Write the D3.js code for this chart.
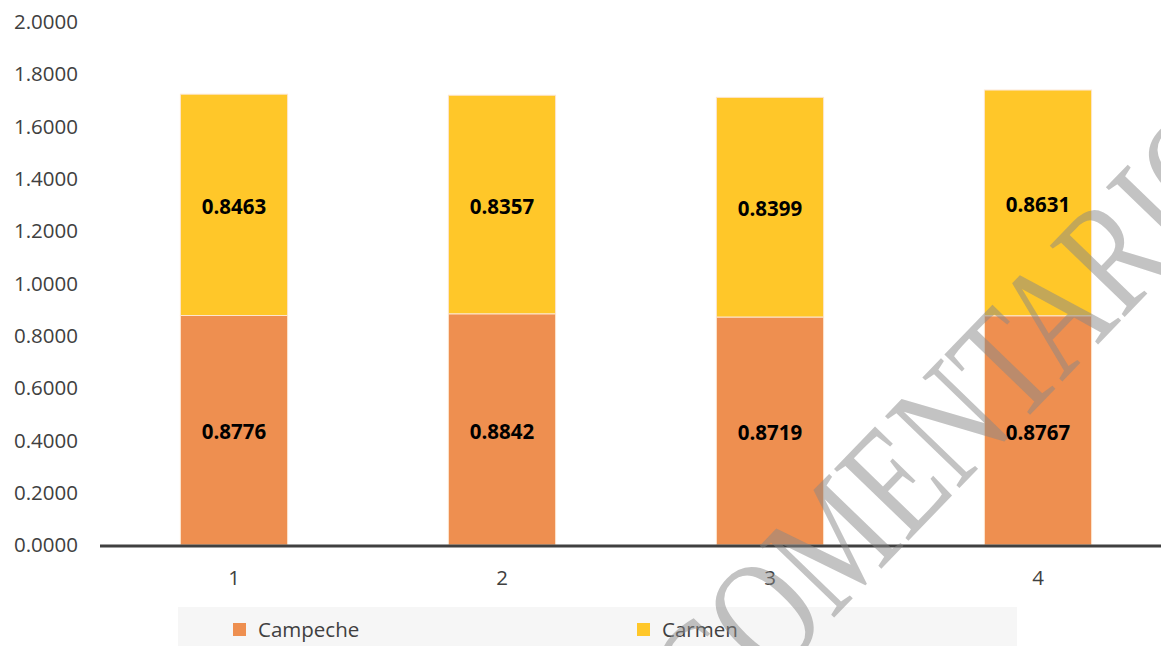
<!DOCTYPE html>
<html><head><meta charset="utf-8">
<script src="https://cdn.jsdelivr.net/npm/d3@7"></script>
<style>body{margin:0;background:#fff;}svg{display:block;}</style>
</head><body>
<svg id="c" width="1161" height="646"></svg>
<script>
const categories = ["1","2","3","4"];
const seriesNames = ["Campeche","Carmen"];
const campeche = [0.8776,0.8842,0.8719,0.8767];
const carmen = [0.8463,0.8357,0.8399,0.8631];
const yTicks = [0,0.2,0.4,0.6,0.8,1.0,1.2,1.4,1.6,1.8,2.0];
const colors = ["#EE8F50","#FFC729"];

const svg = d3.select("#c");
const font = "'Open Sans', 'Liberation Sans', sans-serif";
const fs = 20.5;
const x = d3.scaleBand().domain(categories).range([100,1172]).paddingInner(0.6).paddingOuter(0.3);
const y = d3.scaleLinear().domain([0,2]).range([545,22]);

const rows = categories.map((c,i)=>({cat:c, Campeche:campeche[i], Carmen:carmen[i]}));
const stacked = d3.stack().keys(seriesNames)(rows);

// y tick labels
svg.append("g").selectAll("text").data(yTicks).join("text")
  .attr("x",78).attr("y",d=>y(d)).attr("dy","0.35em").attr("text-anchor","end")
  .attr("font-family",font).attr("font-size",fs).attr("fill","#404040")
  .text(d=>d.toFixed(4));

// bars
const g = svg.append("g");
stacked.forEach((s,si)=>{
  g.selectAll(null).data(s).join("rect")
    .attr("x",d=>x(d.data.cat)).attr("width",x.bandwidth())
    .attr("y",d=>y(d[1])).attr("height",d=>y(d[0])-y(d[1]))
    .attr("fill",colors[si]).attr("stroke","#fde6cf").attr("stroke-width",1);
  g.selectAll(null).data(s).join("text")
    .attr("x",d=>x(d.data.cat)+x.bandwidth()/2).attr("y",d=>(y(d[0])+y(d[1]))/2+2)
    .attr("dy","0.35em").attr("text-anchor","middle")
    .attr("font-family",font).attr("font-weight","bold").attr("font-size",fs).attr("fill","#000")
    .text(d=>(d[1]-d[0]).toFixed(4));
});

// x axis line
svg.append("line").attr("x1",100).attr("x2",1161).attr("y1",y(0)+1).attr("y2",y(0)+1)
  .attr("stroke","#404040").attr("stroke-width",3);
svg.append("g").selectAll("text").data(categories).join("text")
  .attr("x",d=>x(d)+x.bandwidth()/2).attr("y",578).attr("dy","0.35em").attr("text-anchor","middle")
  .attr("font-family",font).attr("font-size",fs).attr("fill","#404040").text(d=>d);

// legend
svg.append("rect").attr("x",178).attr("y",607).attr("width",839).attr("height",39).attr("fill","#f6f6f6");
const lx = [233,637];
seriesNames.forEach((n,i)=>{
  svg.append("rect").attr("x",lx[i]).attr("y",623).attr("width",13).attr("height",13).attr("fill",colors[i]);
  svg.append("text").attr("x",lx[i]+25).attr("y",630).attr("dy","0.35em")
    .attr("font-family",font).attr("font-size",fs).attr("fill","#404040").text(n);
});

// watermark
svg.append("text").attr("transform","translate(716,740) rotate(-46) scale(0.76,1)")
  .attr("font-family","'Liberation Serif', serif").attr("font-size",158)
  .attr("fill","#888").attr("fill-opacity",0.5).text("COMENTARIOS");
</script>
</body></html>
